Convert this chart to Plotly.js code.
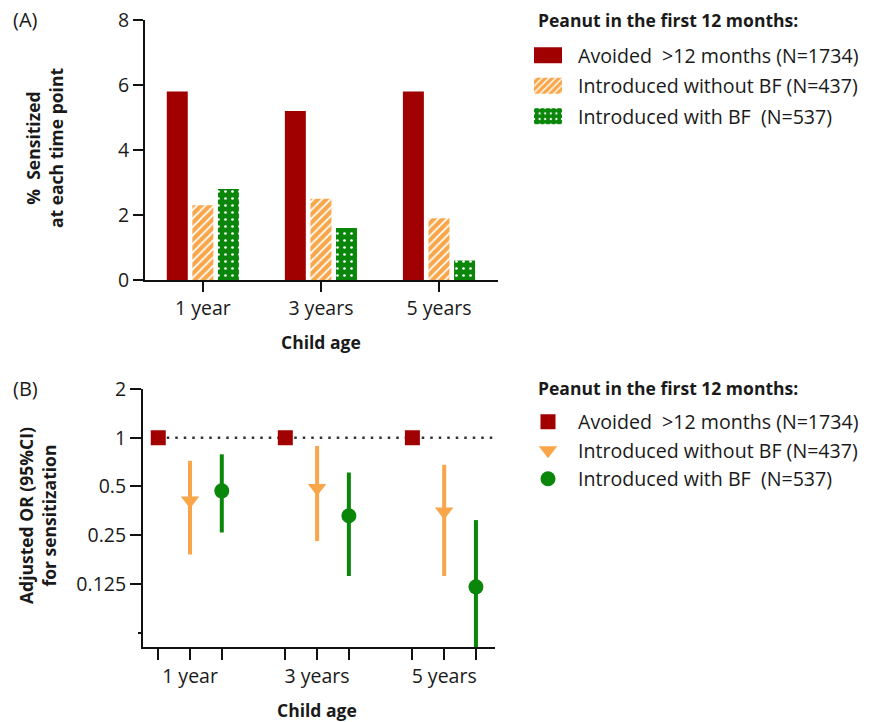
<!DOCTYPE html>
<html>
<head>
<meta charset="utf-8">
<script src="https://cdn.plot.ly/plotly-3.0.1.min.js"></script>
<style>html,body{margin:0;padding:0;background:#fff;}#chart{width:875px;height:722px;}</style>
</head>
<body>
<div id="chart"></div>
<script>
// ---------- data ----------
const ages = ['1 year', '3 years', '5 years'];
const seriesNames = ['Avoided\u00A0 >12 months (N=1734)', 'Introduced without BF (N=437)', 'Introduced with BF\u00A0 (N=537)'];
const legendTitle = 'Peanut in the first 12 months:';

// Panel A: % sensitized at each time point
const pctAvoided = [5.8, 5.2, 5.8];
const pctNoBF = [2.3, 2.5, 1.9];
const pctBF = [2.8, 1.6, 0.6];

// Panel B: adjusted OR (95% CI)
const orAvoided = [1, 1, 1];
const orNoBF = [0.41, 0.49, 0.35];
const orNoBFLo = [0.19, 0.23, 0.14];
const orNoBFHi = [0.72, 0.89, 0.68];
const orBF = [0.47, 0.33, 0.12];
const orBFLo = [0.26, 0.14, 0.051];
const orBFHi = [0.79, 0.61, 0.31];

const yTicksA = [0, 2, 4, 6, 8];
const yTicksB = [0.125, 0.25, 0.5, 1, 2];
const yTickTextB = ['0.125', '0.25', '0.5', '1', '2'];
const yMinorTicksB = [0.0625];

// ---------- styling ----------
const RED = '#A00000', ORANGE = '#F9A64A', GREEN = '#0A870A';
const FONT = '"Open Sans", Lato, sans-serif';
const TXT = '#1a1a1a';
const W = 875, H = 722;
const fx = p => p / W;
const fy = p => 1 - p / H;

// group positions for panel B (3 series per age group, gap of one slot between groups)
const slot = (g, s) => g * 4 + s;
const xB = s => ages.map((_, g) => slot(g, s));
const tickValsB = [], tickTextB = [];
ages.forEach((a, g) => { for (let s = 0; s < 3; s++) { tickValsB.push(slot(g, s)); tickTextB.push(s === 1 ? a : ''); } });
const xRangeB = [-0.48, slot(ages.length - 1, 2) + 0.6];

const diff = (a, b) => a.map((v, i) => v - b[i]);

const traces = [
  { type: 'bar', x: ages, y: pctAvoided, name: seriesNames[0], legendgroup: 'a1',
    marker: { color: RED, line: { width: 0 } }, xaxis: 'x', yaxis: 'y', legend: 'legend' },
  { type: 'bar', x: ages, y: pctNoBF, name: seriesNames[1], legendgroup: 'a2',
    marker: { color: ORANGE, line: { width: 0 },
      pattern: { shape: '/', fillmode: 'replace', bgcolor: ORANGE, fgcolor: '#ffffff', size: 6, solidity: 0.3 } },
    xaxis: 'x', yaxis: 'y', legend: 'legend' },
  { type: 'bar', x: ages, y: pctBF, name: seriesNames[2], legendgroup: 'a3',
    marker: { color: GREEN, line: { width: 0 },
      pattern: { shape: '.', fillmode: 'replace', bgcolor: GREEN, fgcolor: '#ffffff', size: 7, solidity: 0.12 } },
    xaxis: 'x', yaxis: 'y', legend: 'legend' },

  { type: 'scatter', mode: 'markers', x: xB(0), y: orAvoided, name: seriesNames[0], legendgroup: 'b1',
    marker: { symbol: 'square', size: 15, color: RED }, xaxis: 'x2', yaxis: 'y2', legend: 'legend2' },
  { type: 'scatter', mode: 'markers', x: xB(1), y: orNoBF, name: seriesNames[1], legendgroup: 'b2',
    marker: { symbol: 'triangle-down', size: 16, color: ORANGE },
    error_y: { type: 'data', symmetric: false, array: diff(orNoBFHi, orNoBF), arrayminus: diff(orNoBF, orNoBFLo),
      color: ORANGE, thickness: 4, width: 0 },
    xaxis: 'x2', yaxis: 'y2', legend: 'legend2' },
  { type: 'scatter', mode: 'markers', x: xB(2), y: orBF, name: seriesNames[2], legendgroup: 'b3',
    marker: { symbol: 'circle', size: 15, color: GREEN },
    error_y: { type: 'data', symmetric: false, array: diff(orBFHi, orBF), arrayminus: diff(orBF, orBFLo),
      color: GREEN, thickness: 4, width: 0 },
    xaxis: 'x2', yaxis: 'y2', legend: 'legend2' }
];

const axCommon = {
  showline: true, linewidth: 2, linecolor: '#111', ticks: 'outside', tickwidth: 2, tickcolor: '#111',
  showgrid: false, zeroline: false, tickfont: { size: 19.5, color: TXT, family: FONT }, fixedrange: true,
  automargin: false
};

const legCommon = {
  xref: 'paper', yref: 'paper', xanchor: 'left', yanchor: 'top',
  bgcolor: 'rgba(0,0,0,0)', borderwidth: 0, itemwidth: 50,
  font: { size: 19.6, color: TXT, family: FONT },
  itemclick: false, itemdoubleclick: false
};

const titleFont = { size: 17.5, family: FONT, color: TXT };

const layout = {
  width: W, height: H, margin: { l: 0, r: 0, t: 0, b: 0, autoexpand: false },
  paper_bgcolor: '#fff', plot_bgcolor: '#fff',
  font: { family: FONT, color: TXT },
  barmode: 'group', bargap: 0.35, bargroupgap: 0.18,
  xaxis: Object.assign({}, axCommon, { domain: [fx(145), fx(498)], anchor: 'y', type: 'category',
    range: [-0.49, 2.5], ticklen: 10 }),
  yaxis: Object.assign({}, axCommon, { domain: [fy(280), fy(20)], anchor: 'x', range: [0, 8],
    tickvals: yTicksA, ticklen: 10 }),
  xaxis2: Object.assign({}, axCommon, { domain: [fx(143), fx(495)], anchor: 'y2', range: xRangeB,
    tickvals: tickValsB, ticktext: tickTextB, ticklen: 11 }),
  yaxis2: Object.assign({}, axCommon, { domain: [fy(647), fy(389)], anchor: 'x2', type: 'log',
    range: [Math.log10(0.051), Math.log10(2)], tickvals: yTicksB, ticktext: yTickTextB, ticklen: 11,
    minor: { tickmode: 'array', tickvals: yMinorTicksB, ticks: 'outside', ticklen: 3, tickwidth: 2,
      tickcolor: '#111', showgrid: false } }),
  legend: Object.assign({}, legCommon, { x: fx(518), y: fy(36), tracegroupgap: 2 }),
  legend2: Object.assign({}, legCommon, { x: fx(518), y: fy(402.5), tracegroupgap: 0 }),
  shapes: [
    { type: 'line', xref: 'x2', yref: 'y2', x0: slot(0, 0), x1: xRangeB[1], y0: 1, y1: 1, layer: 'below',
      line: { color: '#333', width: 2.5, dash: '2.5px,6px' } }
  ],
  annotations: [
    { text: '<b>' + legendTitle + '</b>', xref: 'paper', yref: 'paper', x: fx(536), y: fy(20),
      xanchor: 'left', yanchor: 'middle', showarrow: false, font: titleFont },
    { text: '<b>' + legendTitle + '</b>', xref: 'paper', yref: 'paper', x: fx(536), y: fy(388),
      xanchor: 'left', yanchor: 'middle', showarrow: false, font: titleFont },
    { text: '(A)', xref: 'paper', yref: 'paper', x: fx(11), y: fy(20), xanchor: 'left', yanchor: 'middle',
      showarrow: false, font: { size: 20, family: FONT, color: TXT } },
    { text: '(B)', xref: 'paper', yref: 'paper', x: fx(11), y: fy(388), xanchor: 'left', yanchor: 'middle',
      showarrow: false, font: { size: 20, family: FONT, color: TXT } },
    { text: '<b>% \u00A0Sensitized</b><br><b>at each time point</b>', xref: 'paper', yref: 'paper',
      x: fx(44), y: fy(148), xanchor: 'center', yanchor: 'middle', textangle: -90, showarrow: false,
      font: titleFont },
    { text: '<b>Adjusted OR (95%CI)</b><br><b>for sensitization</b>', xref: 'paper', yref: 'paper',
      x: fx(37), y: fy(516), xanchor: 'center', yanchor: 'middle', textangle: -90, showarrow: false,
      font: titleFont },
    { text: '<b>Child age</b>', xref: 'paper', yref: 'paper', x: fx(321), y: fy(342), xanchor: 'center',
      yanchor: 'middle', showarrow: false, font: titleFont },
    { text: '<b>Child age</b>', xref: 'paper', yref: 'paper', x: fx(317), y: fy(710), xanchor: 'center',
      yanchor: 'middle', showarrow: false, font: titleFont }
  ]
};

Plotly.newPlot('chart', traces, layout, { displayModeBar: false, staticPlot: true }).then(gd => {
  // widen the bar-legend swatches to the wide rectangles of the original
  gd.querySelectorAll('g.legend .legendpoints path').forEach(p => {
    if (!p.classList.contains('scatterpts')) p.setAttribute('d', 'M14,8H-14V-8H14Z');
  });
});
</script>
</body>
</html>
